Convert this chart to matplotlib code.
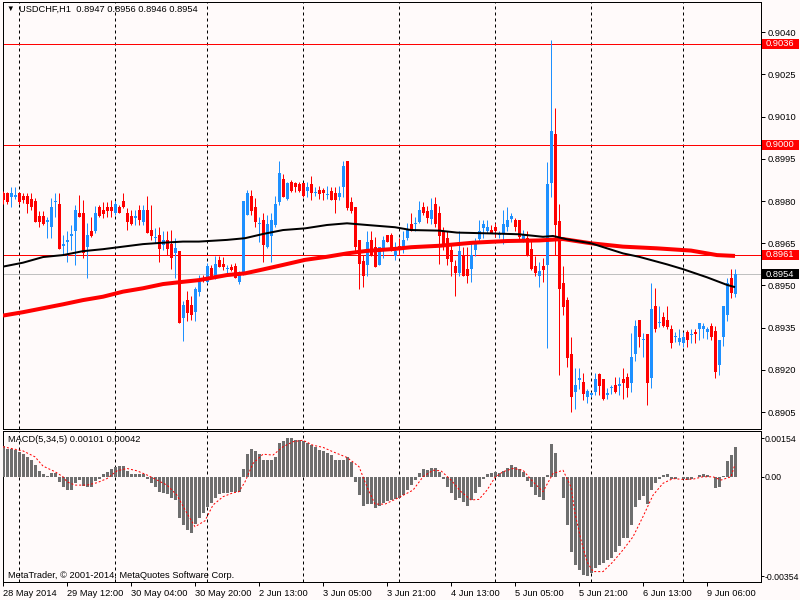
import matplotlib
matplotlib.use('Agg')
import matplotlib.pyplot as plt
from matplotlib.patches import Rectangle
from matplotlib.transforms import blended_transform_factory
import numpy as np

plt.rcParams['font.family'] = ['Liberation Sans', 'DejaVu Sans']

# USDCHF H1 candles, 28 May 2014 00:00 .. 9 Jun 13:00
opens = [
    0.89830, 0.89828, 0.89816, 0.89816, 0.89830, 0.89818, 0.89818, 0.89807, 0.89802, 0.89747,
    0.89747, 0.89727, 0.89707, 0.89795, 0.89790, 0.89641, 0.89656, 0.89676, 0.89695, 0.89759,
    0.89759, 0.89635, 0.89692, 0.89695, 0.89778, 0.89769, 0.89778, 0.89778, 0.89757, 0.89778,
    0.89801, 0.89757, 0.89747, 0.89739, 0.89769, 0.89727, 0.89769, 0.89698, 0.89668, 0.89680,
    0.89644, 0.89662, 0.89648, 0.89615, 0.89621, 0.89384, 0.89449, 0.89431, 0.89407, 0.89475,
    0.89528, 0.89514, 0.89561, 0.89526, 0.89589, 0.89577, 0.89558, 0.89567, 0.89570, 0.89514,
    0.89538, 0.89751, 0.89818, 0.89778, 0.89719, 0.89731, 0.89635, 0.89676, 0.89715, 0.89795,
    0.89879, 0.89807, 0.89867, 0.89864, 0.89861, 0.89864, 0.89837, 0.89861, 0.89828, 0.89840,
    0.89840, 0.89820, 0.89837, 0.89830, 0.89816, 0.89849, 0.89941, 0.89795, 0.89778, 0.89660,
    0.89587, 0.89573, 0.89662, 0.89636, 0.89573, 0.89621, 0.89680, 0.89680, 0.89605, 0.89641,
    0.89629, 0.89668, 0.89719, 0.89719, 0.89727, 0.89778, 0.89766, 0.89736, 0.89790, 0.89759,
    0.89692, 0.89668, 0.89627, 0.89570, 0.89546, 0.89605, 0.89558, 0.89558, 0.89627, 0.89664,
    0.89704, 0.89695, 0.89698, 0.89707, 0.89679, 0.89688, 0.89707, 0.89736, 0.89731, 0.89731,
    0.89662, 0.89668, 0.89629, 0.89570, 0.89534, 0.89570, 0.89573, 0.89865, 0.90038, 0.89729,
    0.89510, 0.89448, 0.89256, 0.89122, 0.89164, 0.89158, 0.89105, 0.89111, 0.89122, 0.89184,
    0.89166, 0.89111, 0.89134, 0.89146, 0.89144, 0.89166, 0.89176, 0.89154, 0.89256, 0.89377,
    0.89306, 0.89327, 0.89172, 0.89427, 0.89365, 0.89387, 0.89377, 0.89344, 0.89316, 0.89300,
    0.89294, 0.89336, 0.89324, 0.89336, 0.89344, 0.89344, 0.89336, 0.89356, 0.89339, 0.89217,
    0.89316, 0.89395, 0.89525, 0.8947]
highs = [
    0.89837, 0.89834, 0.89849, 0.89849, 0.89834, 0.89830, 0.89828, 0.89828, 0.89810, 0.89763,
    0.89765, 0.89745, 0.89810, 0.89830, 0.89830, 0.89680, 0.89692, 0.89715, 0.89787, 0.89822,
    0.89804, 0.89721, 0.89745, 0.89781, 0.89787, 0.89798, 0.89798, 0.89804, 0.89802, 0.89787,
    0.89828, 0.89775, 0.89769, 0.89769, 0.89787, 0.89787, 0.89818, 0.89787, 0.89704, 0.89709,
    0.89692, 0.89692, 0.89698, 0.89668, 0.89621, 0.89446, 0.89480, 0.89461, 0.89496, 0.89538,
    0.89538, 0.89579, 0.89573, 0.89605, 0.89605, 0.89601, 0.89573, 0.89577, 0.89579, 0.89550,
    0.89802, 0.89840, 0.89840, 0.89810, 0.89745, 0.89757, 0.89751, 0.89757, 0.89818, 0.89941,
    0.89897, 0.89869, 0.89875, 0.89869, 0.89869, 0.89864, 0.89867, 0.89890, 0.89849, 0.89852,
    0.89846, 0.89852, 0.89849, 0.89849, 0.89852, 0.89941, 0.89941, 0.89816, 0.89778, 0.89660,
    0.89609, 0.89692, 0.89692, 0.89672, 0.89638, 0.89676, 0.89680, 0.89686, 0.89656, 0.89668,
    0.89692, 0.89721, 0.89757, 0.89745, 0.89802, 0.89798, 0.89781, 0.89810, 0.89816, 0.89781,
    0.89709, 0.89692, 0.89650, 0.89591, 0.89692, 0.89638, 0.89638, 0.89650, 0.89668, 0.89731,
    0.89733, 0.89733, 0.89715, 0.89721, 0.89692, 0.89769, 0.89778, 0.89759, 0.89739, 0.89731,
    0.89698, 0.89692, 0.89662, 0.89603, 0.89582, 0.89597, 0.89940, 0.90372, 0.90130, 0.89790,
    0.89569, 0.89460, 0.89318, 0.89205, 0.89205, 0.89188, 0.89131, 0.89122, 0.89188, 0.89188,
    0.89166, 0.89134, 0.89146, 0.89176, 0.89176, 0.89205, 0.89188, 0.89330, 0.89377, 0.89377,
    0.89330, 0.89327, 0.89508, 0.89490, 0.89427, 0.89407, 0.89427, 0.89359, 0.89336, 0.89344,
    0.89336, 0.89342, 0.89344, 0.89344, 0.89368, 0.89368, 0.89353, 0.89368, 0.89356, 0.89306,
    0.89427, 0.89525, 0.89557, 0.8956]
lows = [
    0.89789, 0.89789, 0.89778, 0.89807, 0.89789, 0.89792, 0.89757, 0.89769, 0.89727, 0.89707,
    0.89715, 0.89668, 0.89668, 0.89745, 0.89629, 0.89609, 0.89585, 0.89627, 0.89573, 0.89745,
    0.89597, 0.89526, 0.89674, 0.89686, 0.89745, 0.89739, 0.89745, 0.89745, 0.89751, 0.89757,
    0.89775, 0.89698, 0.89715, 0.89715, 0.89715, 0.89715, 0.89686, 0.89662, 0.89650, 0.89585,
    0.89627, 0.89609, 0.89558, 0.89526, 0.89366, 0.89304, 0.89375, 0.89378, 0.89375, 0.89461,
    0.89514, 0.89510, 0.89532, 0.89522, 0.89565, 0.89555, 0.89534, 0.89553, 0.89526, 0.89506,
    0.89538, 0.89751, 0.89751, 0.89709, 0.89656, 0.89585, 0.89632, 0.89585, 0.89707, 0.89787,
    0.89814, 0.89804, 0.89834, 0.89834, 0.89834, 0.89816, 0.89816, 0.89804, 0.89818, 0.89807,
    0.89804, 0.89807, 0.89804, 0.89757, 0.89804, 0.89816, 0.89769, 0.89759, 0.89615, 0.89487,
    0.89496, 0.89532, 0.89605, 0.89567, 0.89573, 0.89597, 0.89656, 0.89621, 0.89591, 0.89609,
    0.89615, 0.89662, 0.89692, 0.89692, 0.89721, 0.89751, 0.89721, 0.89719, 0.89709, 0.89577,
    0.89627, 0.89573, 0.89534, 0.89463, 0.89534, 0.89532, 0.89508, 0.89514, 0.89605, 0.89656,
    0.89668, 0.89686, 0.89686, 0.89674, 0.89668, 0.89648, 0.89692, 0.89724, 0.89692, 0.89662,
    0.89653, 0.89605, 0.89555, 0.89534, 0.89496, 0.89514, 0.89276, 0.89816, 0.89608, 0.89182,
    0.89395, 0.89211, 0.89051, 0.89060, 0.89131, 0.89093, 0.89081, 0.89105, 0.89111, 0.89111,
    0.89093, 0.89095, 0.89113, 0.89119, 0.89111, 0.89095, 0.89105, 0.89122, 0.89233, 0.89280,
    0.89247, 0.89075, 0.89134, 0.89336, 0.89351, 0.89351, 0.89344, 0.89276, 0.89300, 0.89288,
    0.89282, 0.89282, 0.89297, 0.89294, 0.89306, 0.89312, 0.89308, 0.89306, 0.89172, 0.89182,
    0.89285, 0.89375, 0.89457, 0.8946]
closes = [
    0.89804, 0.89798, 0.89830, 0.89822, 0.89798, 0.89804, 0.89789, 0.89778, 0.89727, 0.89727,
    0.89719, 0.89733, 0.89778, 0.89802, 0.89629, 0.89648, 0.89662, 0.89683, 0.89769, 0.89745,
    0.89615, 0.89680, 0.89676, 0.89759, 0.89747, 0.89755, 0.89766, 0.89766, 0.89790, 0.89759,
    0.89778, 0.89727, 0.89719, 0.89747, 0.89733, 0.89769, 0.89688, 0.89676, 0.89674, 0.89629,
    0.89662, 0.89629, 0.89597, 0.89632, 0.89366, 0.89431, 0.89401, 0.89395, 0.89487, 0.89514,
    0.89518, 0.89570, 0.89534, 0.89577, 0.89567, 0.89565, 0.89563, 0.89555, 0.89526, 0.89544,
    0.89802, 0.89830, 0.89766, 0.89727, 0.89723, 0.89644, 0.89719, 0.89731, 0.89790, 0.89899,
    0.89816, 0.89866, 0.89837, 0.89849, 0.89837, 0.89818, 0.89849, 0.89830, 0.89833, 0.89826,
    0.89828, 0.89824, 0.89804, 0.89804, 0.89830, 0.89923, 0.89775, 0.89766, 0.89638, 0.89576,
    0.89532, 0.89656, 0.89609, 0.89567, 0.89636, 0.89660, 0.89656, 0.89621, 0.89621, 0.89629,
    0.89660, 0.89700, 0.89695, 0.89723, 0.89769, 0.89757, 0.89739, 0.89769, 0.89719, 0.89676,
    0.89644, 0.89593, 0.89585, 0.89546, 0.89621, 0.89534, 0.89534, 0.89609, 0.89648, 0.89692,
    0.89719, 0.89707, 0.89686, 0.89695, 0.89684, 0.89719, 0.89731, 0.89747, 0.89707, 0.89672,
    0.89680, 0.89605, 0.89558, 0.89546, 0.89550, 0.89555, 0.89861, 0.90049, 0.89715, 0.89486,
    0.89425, 0.89243, 0.89105, 0.89146, 0.89170, 0.89113, 0.89125, 0.89117, 0.89166, 0.89143,
    0.89095, 0.89117, 0.89140, 0.89122, 0.89148, 0.89154, 0.89134, 0.89247, 0.89356, 0.89316,
    0.89310, 0.89154, 0.89415, 0.89344, 0.89369, 0.89356, 0.89353, 0.89297, 0.89321, 0.89312,
    0.89318, 0.89306, 0.89329, 0.89327, 0.89365, 0.89356, 0.89344, 0.89318, 0.89194, 0.89306,
    0.89427, 0.89508, 0.89474, 0.8954]

# moving averages, read at sample bars
ma_black_bars = [0, 5, 10, 15, 20, 25, 30, 35, 40, 45, 49, 56, 60.5, 65, 70, 75.5, 81, 86, 91,
                 98, 102, 109, 113.5, 122, 129, 135, 137.5, 141, 147, 155, 159, 166, 170, 176, 181, 183]
ma_black = [0.89567, 0.89581, 0.89601, 0.89608, 0.89622, 0.89629, 0.89638, 0.89647, 0.89652,
            0.89656, 0.89656, 0.89662, 0.89668, 0.89683, 0.89697, 0.89703, 0.89715, 0.89721,
            0.89715, 0.89707, 0.89697, 0.89695, 0.89688, 0.89685, 0.89682, 0.89673, 0.89676,
            0.89664, 0.89650, 0.89614, 0.89602, 0.89575, 0.89558, 0.89529, 0.89502, 0.89494]
ma_red_bars = [0, 5, 10, 15, 20, 25, 30, 35, 40, 45, 49, 56, 60.5, 65, 70, 75.5, 81, 86, 91,
               98, 102, 109, 117.5, 126, 134, 140, 147, 155, 163.5, 172, 178.5, 183]
ma_red = [0.89393, 0.89405, 0.89419, 0.89433, 0.89448, 0.89460, 0.89478, 0.89490, 0.89505,
          0.89513, 0.89519, 0.89537, 0.89543, 0.89557, 0.89573, 0.89591, 0.89602, 0.89614,
          0.89623, 0.89630, 0.89636, 0.89641, 0.89652, 0.89658, 0.89660, 0.89665, 0.89650,
          0.89638, 0.89632, 0.89624, 0.89608, 0.89605]

# MACD(5,34,5) histogram per bar and signal line samples
macd_hist = [
    0.00103, 0.00095, 0.00093, 0.00090, 0.00084, 0.00078, 0.00067, 0.00056, 0.00039, 0.00020,
    0.00009, 0.00002, 0.00013, 0.00013, -0.00017, -0.00036, -0.00043, -0.00043, -0.00020, -0.00011,
    -0.00031, -0.00036, -0.00036, -0.00013, -0.00006, 0.00009, 0.00017, 0.00025, 0.00034, 0.00036,
    0.00036, 0.00020, 0.00011, 0.00009, 0.00009, 0.00009, -0.00009, -0.00022, -0.00034, -0.00050,
    -0.00054, -0.00058, -0.00071, -0.00078, -0.00140, -0.00162, -0.00179, -0.00190, -0.00159, -0.00140,
    -0.00123, -0.00101, -0.00087, -0.00073, -0.00058, -0.00056, -0.00054, -0.00050, -0.00050, -0.00050,
    0.00025, 0.00076, 0.00092, 0.00087, 0.00078, 0.00058, 0.00058, 0.00058, 0.00067, 0.00114,
    0.00121, 0.00129, 0.00129, 0.00125, 0.00123, 0.00121, 0.00112, 0.00106, 0.00099, 0.00090,
    0.00087, 0.00081, 0.00073, 0.00058, 0.00056, 0.00058, 0.00067, 0.00050, -0.00017, -0.00062,
    -0.00099, -0.00092, -0.00090, -0.00106, -0.00099, -0.00087, -0.00081, -0.00078, -0.00076, -0.00073,
    -0.00062, -0.00045, -0.00028, -0.00011, 0.00013, 0.00025, 0.00022, 0.00031, 0.00028, 0.00017,
    -0.00009, -0.00034, -0.00056, -0.00078, -0.00073, -0.00084, -0.00099, -0.00078, -0.00056, -0.00036,
    -0.00009, 0.00009, 0.00013, 0.00017, 0.00013, 0.00020, 0.00031, 0.00039, 0.00034, 0.00025,
    0.00017, -0.00013, -0.00034, -0.00062, -0.00067, -0.00078, 0.00006, 0.00110, 0.00081, -0.00001,
    -0.00073, -0.00162, -0.00252, -0.00297, -0.00314, -0.00330, -0.00333, -0.00325, -0.00308, -0.00297,
    -0.00291, -0.00280, -0.00274, -0.00252, -0.00233, -0.00207, -0.00207, -0.00162, -0.00103, -0.00078,
    -0.00065, -0.00090, -0.00043, -0.00022, -0.00006, 0.00006, 0.00009, -0.00006, -0.00006, -0.00002,
    -0.00009, -0.00011, -0.00006, -0.00002, 0.00006, 0.00009, 0.00006, -0.00002, -0.00039, -0.00034,
    0.00002, 0.00054, 0.00073, 0.00101]
signal_bars = [0, 5, 8, 10, 13, 15, 16, 18, 21, 23.5, 26, 28.5, 31, 33.5, 36, 38.5, 41, 43.5, 46,
               48, 50.5, 52.5, 55, 57.5, 59, 60.5, 62.5, 65, 67.5, 70, 72.5, 75, 77.5, 80, 82.5,
               86, 89, 91, 93, 95.5, 98.5, 102.5, 105, 107.5, 109.5, 112, 114.5, 117, 119, 121,
               123, 125, 127.5, 130, 132.5, 135, 137.5, 140, 142, 143, 144.5, 146, 147.5, 150,
               152.5, 155, 157.5, 160, 162.5, 165, 167.5, 170, 172.5, 175, 177.5, 179.5, 182, 183]
signal = [0.00101, 0.00087, 0.00067, 0.00036, 0.00017, 0.0, -0.00017, -0.00028, -0.00028, -0.00020,
          -0.00006, 0.00020, 0.00028, 0.00020, 0.00006, -0.00011, -0.00028, -0.00062, -0.00123,
          -0.00168, -0.00148, -0.00095, -0.00067, -0.00054, -0.00050, -0.00017, 0.00045, 0.00076,
          0.00073, 0.00101, 0.00118, 0.00123, 0.00106, 0.00099, 0.00084, 0.00065, 0.00034,
          -0.00034, -0.00092, -0.00092, -0.00073, -0.00045, 0.0, 0.00022, 0.00020, -0.00011,
          -0.00050, -0.00078, -0.00076, -0.00045, -0.00002, 0.00017, 0.00028, 0.00022, -0.00017,
          -0.00050, 0.00011, 0.00022, -0.00034, -0.00123, -0.00213, -0.00286, -0.00319, -0.00319,
          -0.00286, -0.00246, -0.00202, -0.00134, -0.00062, -0.00022, -0.00006, -0.00009, -0.00008,
          0.0, 0.0, -0.00011, 0.0, 0.00042]

red_levels = [0.9036, 0.9000, 0.8961]
bid = 0.8954
price_ticks = [0.8905, 0.8920, 0.8935, 0.8950, 0.8965, 0.8980, 0.8995, 0.9010, 0.9025, 0.9040]
grid_bars = [4, 28, 51, 75, 99, 123, 147, 170]
time_bars = [0, 16, 32, 48, 64, 80, 96, 112, 128, 144, 160, 176]
time_labels = ['28 May 2014', '29 May 12:00', '30 May 04:00', '30 May 20:00', '2 Jun 13:00',
               '3 Jun 05:00', '3 Jun 21:00', '4 Jun 13:00', '5 Jun 05:00', '5 Jun 21:00',
               '6 Jun 13:00', '9 Jun 06:00']

BG = '#FFFAFA'
BULL = '#1E90FF'
BEAR = '#FF0000'
PX = 0.72  # one pixel in points
FS = 6.7

fig = plt.figure(figsize=(8, 6), dpi=100, facecolor=BG)
ax = fig.add_axes([2.5 / 800, 171.5 / 600, 758 / 800, 427 / 600], facecolor=BG)
ax2 = fig.add_axes([2.5 / 800, 18 / 600, 758 / 800, 151 / 600], facecolor=BG)

o = np.array(opens)
h = np.array(highs)
l = np.array(lows)
c = np.array(closes)
x = np.arange(len(o))
cols = np.where(c >= o, BULL, BEAR)

for b in grid_bars:
    for a in (ax, ax2):
        a.axvline(b, color='black', lw=PX, ls=(0, (3, 3)), zorder=1)

for lv in red_levels:
    ax.axhline(lv, color='red', lw=PX, zorder=2)
ax.axhline(bid, color='#C0C0C0', lw=PX, zorder=2)

ax.vlines(x, l, h, colors=cols, lw=PX, zorder=3)
ax.bar(x, np.maximum(np.abs(c - o), 0.00004), bottom=np.minimum(o, c), width=0.75,
       color=cols, linewidth=0, zorder=4)

ax.plot(ma_red_bars, ma_red, color='red', lw=4 * PX, zorder=5, solid_capstyle='butt')
ax.plot(ma_black_bars, ma_black, color='black', lw=2 * PX, zorder=6, solid_capstyle='butt')

xlim = (-0.125, 189.375)
ax.set_xlim(*xlim)
ax.set_ylim(0.889915, 0.905095)
ax.yaxis.tick_right()
ax.set_yticks(price_ticks)
ax.set_yticklabels(['%.4f' % v for v in price_ticks])
ax.tick_params(axis='y', direction='out', length=3, width=PX, labelsize=FS, pad=2)
ax.set_xticks([])
for s in ax.spines.values():
    s.set_linewidth(PX)

# price boxes on the right scale
tr = blended_transform_factory(fig.transFigure, ax.transData)
for lv, fc, txt in [(0.9036, 'red', '0.9036'), (0.9000, 'red', '0.9000'),
                    (0.8961, 'red', '0.8961'), (bid, 'black', '0.8954')]:
    ax.add_patch(Rectangle((761.5 / 800, lv - 0.000178), 37 / 800, 0.000356, transform=tr,
                           facecolor=fc, edgecolor='none', clip_on=False, zorder=10))
    ax.text(766 / 800, lv, txt, transform=tr, color='white', fontsize=FS, va='center',
            ha='left', zorder=11, clip_on=False)

fig.text(6 / 800, 1 - 9 / 600, '\u25bc', fontsize=5.5, va='center', ha='left', color='black')
fig.text(19 / 800, 1 - 9 / 600, 'USDCHF,H1  0.8947 0.8956 0.8946 0.8954', fontsize=FS,
         va='center', ha='left', color='black')

# MACD window
ax2.bar(x, macd_hist, width=0.75, color='#6E6E6E', linewidth=0, zorder=3)
ax2.plot(signal_bars, signal, color='red', lw=PX, ls=(0, (2, 2)), zorder=4)
ax2.set_xlim(*xlim)
ax2.set_ylim(-0.00354, 0.00154)
ax2.yaxis.tick_right()
ax2.set_yticks([0.00129, 0.0, -0.00334])
ax2.set_yticklabels(['0.00154', '0.00', '-0.00354'])
ax2.tick_params(axis='y', direction='out', length=2, width=PX, labelsize=6.3, pad=1)
ax2.set_xticks(time_bars)
ax2.set_xticklabels(time_labels, ha='left')
ax2.tick_params(axis='x', direction='out', length=3, width=PX, labelsize=FS, pad=2)
for s in ax2.spines.values():
    s.set_linewidth(PX)
ax2.text(5 / 758, 1 - 8 / 151, 'MACD(5,34,5) 0.00101 0.00042', transform=ax2.transAxes,
         fontsize=FS, va='center', ha='left')
ax2.text(5 / 758, 7 / 151, 'MetaTrader, \u00a9 2001-2014, MetaQuotes Software Corp.',
         transform=ax2.transAxes, fontsize=FS, va='center', ha='left')

fig.savefig('out.png', dpi=100, facecolor=BG)
